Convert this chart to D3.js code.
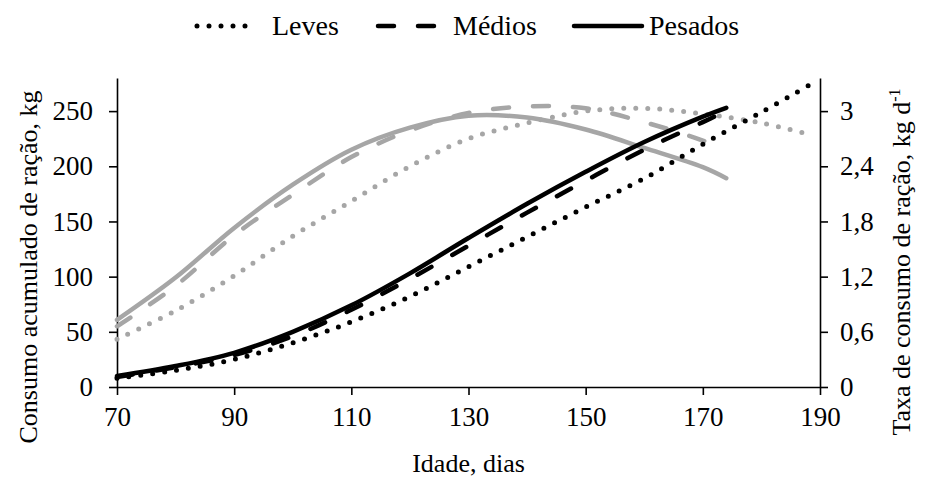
<!DOCTYPE html>
<html>
<head>
<meta charset="utf-8">
<script src="https://cdn.jsdelivr.net/npm/d3@7"></script>
</head>
<body style="margin:0; background:#fff">
<div id="chart"></div>
<script>
// idade (dias)
const dias = [70, 80, 90, 100, 110, 120, 130, 140, 150, 160, 170, 174];
const diasLeves = [70, 80, 90, 100, 110, 120, 130, 140, 150, 160, 170, 180, 188];

// consumo acumulado de ração, kg (eixo esquerdo)
const consumoLeves = [8, 15, 25, 40, 59, 82, 109, 136, 163, 189, 220, 249, 273];
const consumoMedios = [9, 18, 29, 46, 70, 98, 128, 158, 187, 215, 240, 250];
const consumoPesados = [10, 19, 31, 50, 74, 103, 135, 166, 195, 222, 245, 253];

// taxa de consumo de ração, kg/d (eixo direito)
const taxaLeves = [0.52, 0.83, 1.21, 1.64, 2.02, 2.40, 2.70, 2.87, 3.00, 3.03, 2.97, 2.87, 2.75];
const taxaMedios = [0.66, 1.10, 1.65, 2.09, 2.50, 2.79, 2.98, 3.05, 3.03, 2.88, 2.68, 2.57];
const taxaPesados = [0.73, 1.19, 1.73, 2.20, 2.58, 2.82, 2.95, 2.93, 2.80, 2.60, 2.39, 2.27];

const xTicks = [70, 90, 110, 130, 150, 170, 190];
const yLeftTicks = [0, 50, 100, 150, 200, 250];
const yRightTicks = [0, 0.6, 1.2, 1.8, 2.4, 3.0];

const width = 927, height = 484;
const margin = { top: 78, right: 107, bottom: 97, left: 117 };
const innerWidth = width - margin.left - margin.right;
const innerHeight = height - margin.top - margin.bottom;

const serif = "Times New Roman";
const gray = "#a6a6a6";
const styles = {
  leves: { dash: "0 12", cap: "round", width: 5 },
  medios: { dash: "16 24", cap: "round", width: 4.5 },
  pesados: { dash: null, cap: "round", width: 4.5 }
};

const svg = d3.select("#chart").append("svg")
  .attr("width", width)
  .attr("height", height);

const g = svg.append("g")
  .attr("transform", `translate(${margin.left}, ${margin.top})`);

const scaleX = d3.scaleLinear().domain([70, 190]).range([0, innerWidth]);
const scaleYLeft = d3.scaleLinear().domain([0, 280]).range([innerHeight, 0]);
const scaleYRight = d3.scaleLinear().domain([0, 3.36]).range([innerHeight, 0]);

const fmtComma = d => d3.format("~g")(d).replace(".", ",");

// axes
const axisBottom = g.append("g")
  .attr("transform", `translate(0, ${innerHeight})`)
  .call(d3.axisBottom(scaleX).tickValues(xTicks).tickSize(8).tickSizeOuter(0).tickPadding(12));

const axisLeft = g.append("g")
  .call(d3.axisLeft(scaleYLeft).tickValues(yLeftTicks).tickSize(8).tickSizeOuter(0).tickPadding(16));

const axisRight = g.append("g")
  .attr("transform", `translate(${innerWidth}, 0)`)
  .call(d3.axisRight(scaleYRight).tickValues(yRightTicks).tickFormat(fmtComma).tickSize(8).tickSizeOuter(0).tickPadding(12));

[axisBottom, axisLeft, axisRight].forEach(a => {
  a.attr("font-family", serif).attr("font-size", 27);
  a.selectAll("path, line").attr("stroke", "#000").attr("stroke-width", 1.6);
  a.selectAll("text").attr("fill", "#000");
});

// series
function series(xs, ys, scaleY, color, st) {
  const line = d3.line()
    .x(d => scaleX(d[0]))
    .y(d => scaleY(d[1]))
    .curve(d3.curveCatmullRom.alpha(0.5));
  g.append("path")
    .datum(xs.map((x, i) => [x, ys[i]]))
    .attr("fill", "none")
    .attr("stroke", color)
    .attr("stroke-width", st.width)
    .attr("stroke-linecap", st.cap)
    .attr("stroke-dasharray", st.dash)
    .attr("d", line);
}

series(diasLeves, taxaLeves, scaleYRight, gray, styles.leves);
series(dias, taxaMedios, scaleYRight, gray, styles.medios);
series(dias, taxaPesados, scaleYRight, gray, styles.pesados);
series(diasLeves, consumoLeves, scaleYLeft, "#000", styles.leves);
series(dias, consumoMedios, scaleYLeft, "#000", styles.medios);
series(dias, consumoPesados, scaleYLeft, "#000", styles.pesados);

// axis titles
svg.append("text")
  .attr("x", margin.left + scaleX(130))
  .attr("y", 472)
  .attr("text-anchor", "middle")
  .attr("font-family", serif)
  .attr("font-size", 26)
  .text("Idade, dias");

svg.append("text")
  .attr("transform", "translate(37, 267) rotate(-90)")
  .attr("text-anchor", "middle")
  .attr("font-family", serif)
  .attr("font-size", 26)
  .text("Consumo acumulado de ração, kg");

const rt = svg.append("text")
  .attr("transform", "translate(910, 262) rotate(-90)")
  .attr("text-anchor", "middle")
  .attr("font-family", serif)
  .attr("font-size", 26);
rt.append("tspan").text("Taxa de consumo de ração, kg d");
rt.append("tspan").attr("dy", -10).attr("font-size", 16).text("-1");

// legend
const legendItems = [
  { name: "Leves", st: styles.leves, x1: 197, x2: 256, tx: 272 },
  { name: "Médios", st: styles.medios, x1: 378, x2: 434, tx: 453 },
  { name: "Pesados", st: styles.pesados, x1: 574, x2: 642, tx: 649 }
];
const legend = svg.append("g");
legendItems.forEach(it => {
  legend.append("line")
    .attr("x1", it.x1).attr("x2", it.x2)
    .attr("y1", 26).attr("y2", 26)
    .attr("stroke", "#000")
    .attr("stroke-width", it.st.width)
    .attr("stroke-linecap", it.st.cap)
    .attr("stroke-dasharray", it.st.dash);
  legend.append("text")
    .attr("x", it.tx)
    .attr("y", 35)
    .attr("font-family", serif)
    .attr("font-size", 28)
    .text(it.name);
});
</script>
</body>
</html>
